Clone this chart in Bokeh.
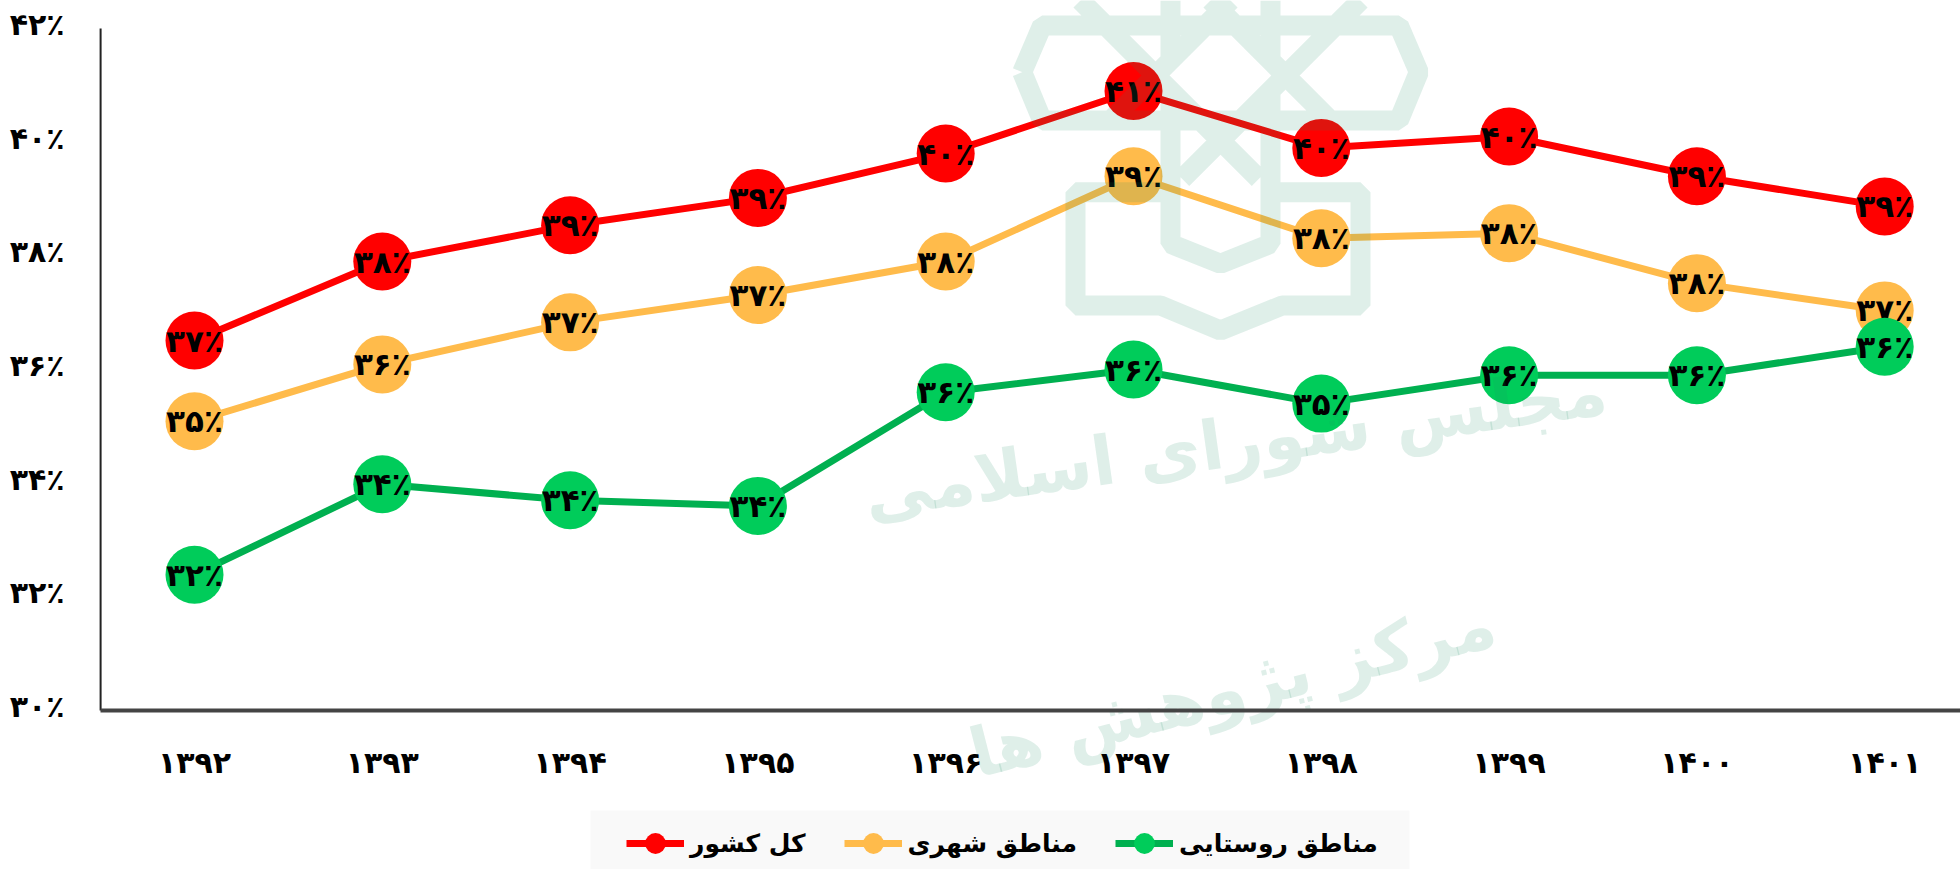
from bokeh.plotting import figure
from bokeh.models import Range1d, FixedTicker, Legend, LegendItem, BoxAnnotation
from bokeh.core.properties import value
from bokeh.embed import file_html
from bokeh.resources import INLINE

years = ["۱۳۹۲","۱۳۹۳","۱۳۹۴","۱۳۹۵","۱۳۹۶","۱۳۹۷","۱۳۹۸","۱۳۹۹","۱۴۰۰","۱۴۰۱"]
total = [36.51,37.9,38.54,39.02,39.8,40.9,39.9,40.1,39.4,38.87]
urban = [35.09,36.09,36.83,37.31,37.9,39.4,38.31,38.4,37.52,37.04]
rural = [32.39,33.98,33.7,33.6,35.6,36.0,35.4,35.9,35.9,36.4]
total_labels = ["۳۷٪","۳۸٪","۳۹٪","۳۹٪","۴۰٪","۴۱٪","۴۰٪","۴۰٪","۳۹٪","۳۹٪"]
urban_labels = ["۳۵٪","۳۶٪","۳۷٪","۳۷٪","۳۸٪","۳۹٪","۳۸٪","۳۸٪","۳۸٪","۳۷٪"]
rural_labels = ["۳۲٪","۳۴٪","۳۴٪","۳۴٪","۳۶٪","۳۶٪","۳۵٪","۳۶٪","۳۶٪","۳۶٪"]
names = ["کل کشور","مناطق شهری","مناطق روستایی"]
y_ticks = [30,32,34,36,38,40,42]
y_labels = ["۳۰٪","۳۲٪","۳۴٪","۳۶٪","۳۸٪","۴۰٪","۴۲٪"]

FONT = "DejaVu Sans"
W, H = 1960, 869
X0, DX = 194.0, 187.8      # px of first category, px per category
Y30, DY = 710.0, 56.83     # px of 30%, px per 1%
NUDGE = 0.07               # tick labels sit slightly above their level

p = figure(width=W, height=H, output_backend="svg", toolbar_location=None, min_border=0,
           x_range=Range1d(-X0/DX, (W-X0)/DX),
           y_range=Range1d(30-(H-Y30)/DY, 30+Y30/DY))
p.outline_line_color = None
p.grid.visible = False
p.background_fill_color = "white"

p.xaxis.fixed_location = 30
p.yaxis.fixed_location = -0.5
p.xaxis.bounds = (-0.5, (W-X0)/DX)
p.xaxis.ticker = FixedTicker(ticks=list(range(len(years))))
p.xaxis.major_label_overrides = {i: t for i, t in enumerate(years)}
p.yaxis.ticker = FixedTicker(ticks=[v + NUDGE for v in y_ticks])
p.yaxis.major_label_overrides = {v + NUDGE: t for v, t in zip(y_ticks, y_labels)}
for ax in (p.xaxis, p.yaxis):
    ax.major_tick_line_color = None
    ax.minor_tick_line_color = None
    ax.major_label_text_font = FONT
    ax.major_label_text_font_style = "bold"
    ax.major_label_text_font_size = "30px"
    ax.major_label_text_color = "black"
p.xaxis.axis_line_color = "#444444"
p.xaxis.axis_line_width = 4
p.yaxis.axis_line_color = None
p.segment([-0.5], [y_ticks[0]], [-0.5], [y_ticks[-1]], line_color="#222222", line_width=2)
p.xaxis.major_label_standoff = 28
p.yaxis.major_label_standoff = 30

series = [(total, total_labels, "#FF0000", "#FF0000"),
          (urban, urban_labels, "#FFBB4B", "#FFBB4B"),
          (rural, rural_labels, "#00B050", "#00CC5A")]
xs = list(range(len(years)))
items = []
for (vals, labs, lc, mc), nm in zip(series, names):
    l = p.line(xs, vals, line_color=lc, line_width=7)
    m = p.scatter(xs, vals, size=58, fill_color=mc, line_color=None)
    p.text(xs, vals, text=labs, text_font=value(FONT), text_font_style="bold",
           text_font_size="31px", text_align="center", text_baseline="middle", text_color="black")
    items.append(LegendItem(label=value(nm), renderers=[l, m]))

# watermark, placed in page pixels
def dx(px): return (px-X0)/DX
def dy(py): return 30+(Y30-py)/DY
route = [(125,215),(185,75),(570,75),(570,0),(570,180),(750,0),(390,360),(185,360),(125,215),(185,360),
         (1255,360),(1315,215),(1255,75),(375,75),(300,0),(835,535),(720,420),(605,535),(1140,0),(1065,75),
         (870,75),(870,0),(870,180),(690,0),(1050,360),(870,360),(870,270),(870,730),(720,790),(570,730),
         (570,270),(570,575),(285,575),(285,915),(540,915),(720,990),(905,915),(1140,915),(1140,575),(870,575)]
WM, WA = "#1A8C62", 0.14
p.line([dx(980+a/3) for a, b in route], [dy(b/3) for a, b in route], line_color=WM, line_alpha=WA, line_width=20)
p.text([dx(1235)], [dy(442)], text=["مجلس شورای اسلامی"], angle=0.14, text_font=value(FONT), text_font_style="bold",
       text_font_size="68px", text_align="center", text_baseline="middle", text_color=WM, text_alpha=WA)
p.text([dx(1232)], [dy(688)], text=["مرکز پژوهش ها"], angle=0.25, text_font=value(FONT), text_font_style="bold",
       text_font_size="68px", text_align="center", text_baseline="middle", text_color=WM, text_alpha=WA)

p.add_layout(BoxAnnotation(left=590, right=1409, top=59, bottom=0, left_units="screen", right_units="screen",
                           top_units="screen", bottom_units="screen", fill_color="#F9F9F9", fill_alpha=1,
                           line_color=None))
legend = Legend(items=items, orientation="horizontal", location=(626, 0), margin=0, padding=3,
                spacing=38, glyph_width=58, glyph_height=52, label_standoff=6,
                label_text_font=FONT, label_text_font_style="bold", label_text_font_size="25px",
                label_text_color="black", background_fill_alpha=0, border_line_color=None)
p.add_layout(legend)

open("out.html", "w").write(file_html(p, INLINE))
